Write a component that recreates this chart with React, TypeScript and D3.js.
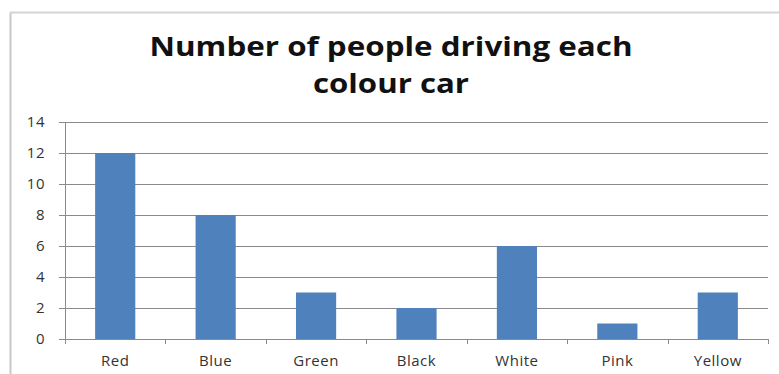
import React, { useEffect, useRef } from "react";
import * as d3 from "d3";

const categories = ["Red", "Blue", "Green", "Black", "White", "Pink", "Yellow"];
const values = [12, 8, 3, 2, 6, 1, 3];
const yTicks = [0, 2, 4, 6, 8, 10, 12, 14];
const titleLines = ["Number of people driving each", "colour car"];
const titleWidths = [483, 156];

export default function App() {
  const ref = useRef<SVGSVGElement>(null);
  useEffect(() => {
    const svg = d3.select(ref.current);
    svg.selectAll("*").remove();
    const W = 779, H = 374;
    const left = 65, right = 768, top = 122, bottom = 339;
    const x = d3.scaleBand().domain(categories).range([left, right]).paddingInner(0.6).paddingOuter(0.3);
    const xb = d3.scaleBand().domain(categories).range([left, right]);
    const y = d3.scaleLinear().domain([0, 14]).range([bottom, top]);
    const grid = "#8a8a8a";

    // chart border (left and top visible)
    svg.append("line").attr("x1", 10.5).attr("x2", 10.5).attr("y1", 12.5).attr("y2", H).attr("stroke", "#c8c8c8").attr("stroke-width", 2);
    svg.append("line").attr("x1", 10).attr("x2", W).attr("y1", 12.5).attr("y2", 12.5).attr("stroke", "#d4d4d4").attr("stroke-width", 2);

    // title
    titleLines.forEach((l, i) => {
      svg.append("text").attr("text-anchor", "middle").attr("font-family", "'Open Sans', sans-serif")
        .attr("font-weight", "bold").attr("font-size", 27).attr("fill", "#111")
        .attr("x", 391).attr("y", 56 + i * 37)
        .attr("textLength", titleWidths[i]).attr("lengthAdjust", "spacingAndGlyphs")
        .text(l);
    });

    // gridlines
    svg.append("g").selectAll("line").data(yTicks).join("line")
      .attr("x1", left - 6).attr("x2", right).attr("y1", (d) => Math.round(y(d)) + 0.5).attr("y2", (d) => Math.round(y(d)) + 0.5)
      .attr("stroke", grid).attr("stroke-width", 1);
    // y axis line
    svg.append("line").attr("x1", left + 0.5).attr("x2", left + 0.5).attr("y1", top).attr("y2", bottom + 1).attr("stroke", grid);
    // y labels
    svg.append("g").selectAll("text").data(yTicks).join("text")
      .attr("x", left - 20).attr("y", (d) => y(d)).attr("dy", "0.35em").attr("text-anchor", "end")
      .attr("font-family", "'Open Sans', sans-serif").attr("font-size", 15).attr("letter-spacing", 0.5).attr("fill", "#333").text((d) => d);

    // x ticks
    const bounds = categories.map((c) => xb(c)!).concat([right]);
    svg.append("g").selectAll("line").data(bounds).join("line")
      .attr("x1", (d) => Math.round(d) + 0.5).attr("x2", (d) => Math.round(d) + 0.5)
      .attr("y1", bottom).attr("y2", bottom + 5).attr("stroke", grid);

    // bars
    svg.append("g").selectAll("rect").data(values).join("rect")
      .attr("x", (_, i) => x(categories[i])!).attr("width", x.bandwidth())
      .attr("y", (d) => y(d)).attr("height", (d) => bottom - y(d)).attr("fill", "#4f81bd");

    // x labels
    svg.append("g").selectAll("text").data(categories).join("text")
      .attr("x", (d) => xb(d)! + xb.bandwidth() / 2).attr("y", 366).attr("text-anchor", "middle")
      .attr("font-family", "'Open Sans', sans-serif").attr("font-size", 15).attr("letter-spacing", 0.5).attr("fill", "#333").text((d) => d);
  }, []);
  return <svg ref={ref} width={779} height={374} style={{ position: "absolute", left: 0, top: 0, background: "#fff" }} />;
}
